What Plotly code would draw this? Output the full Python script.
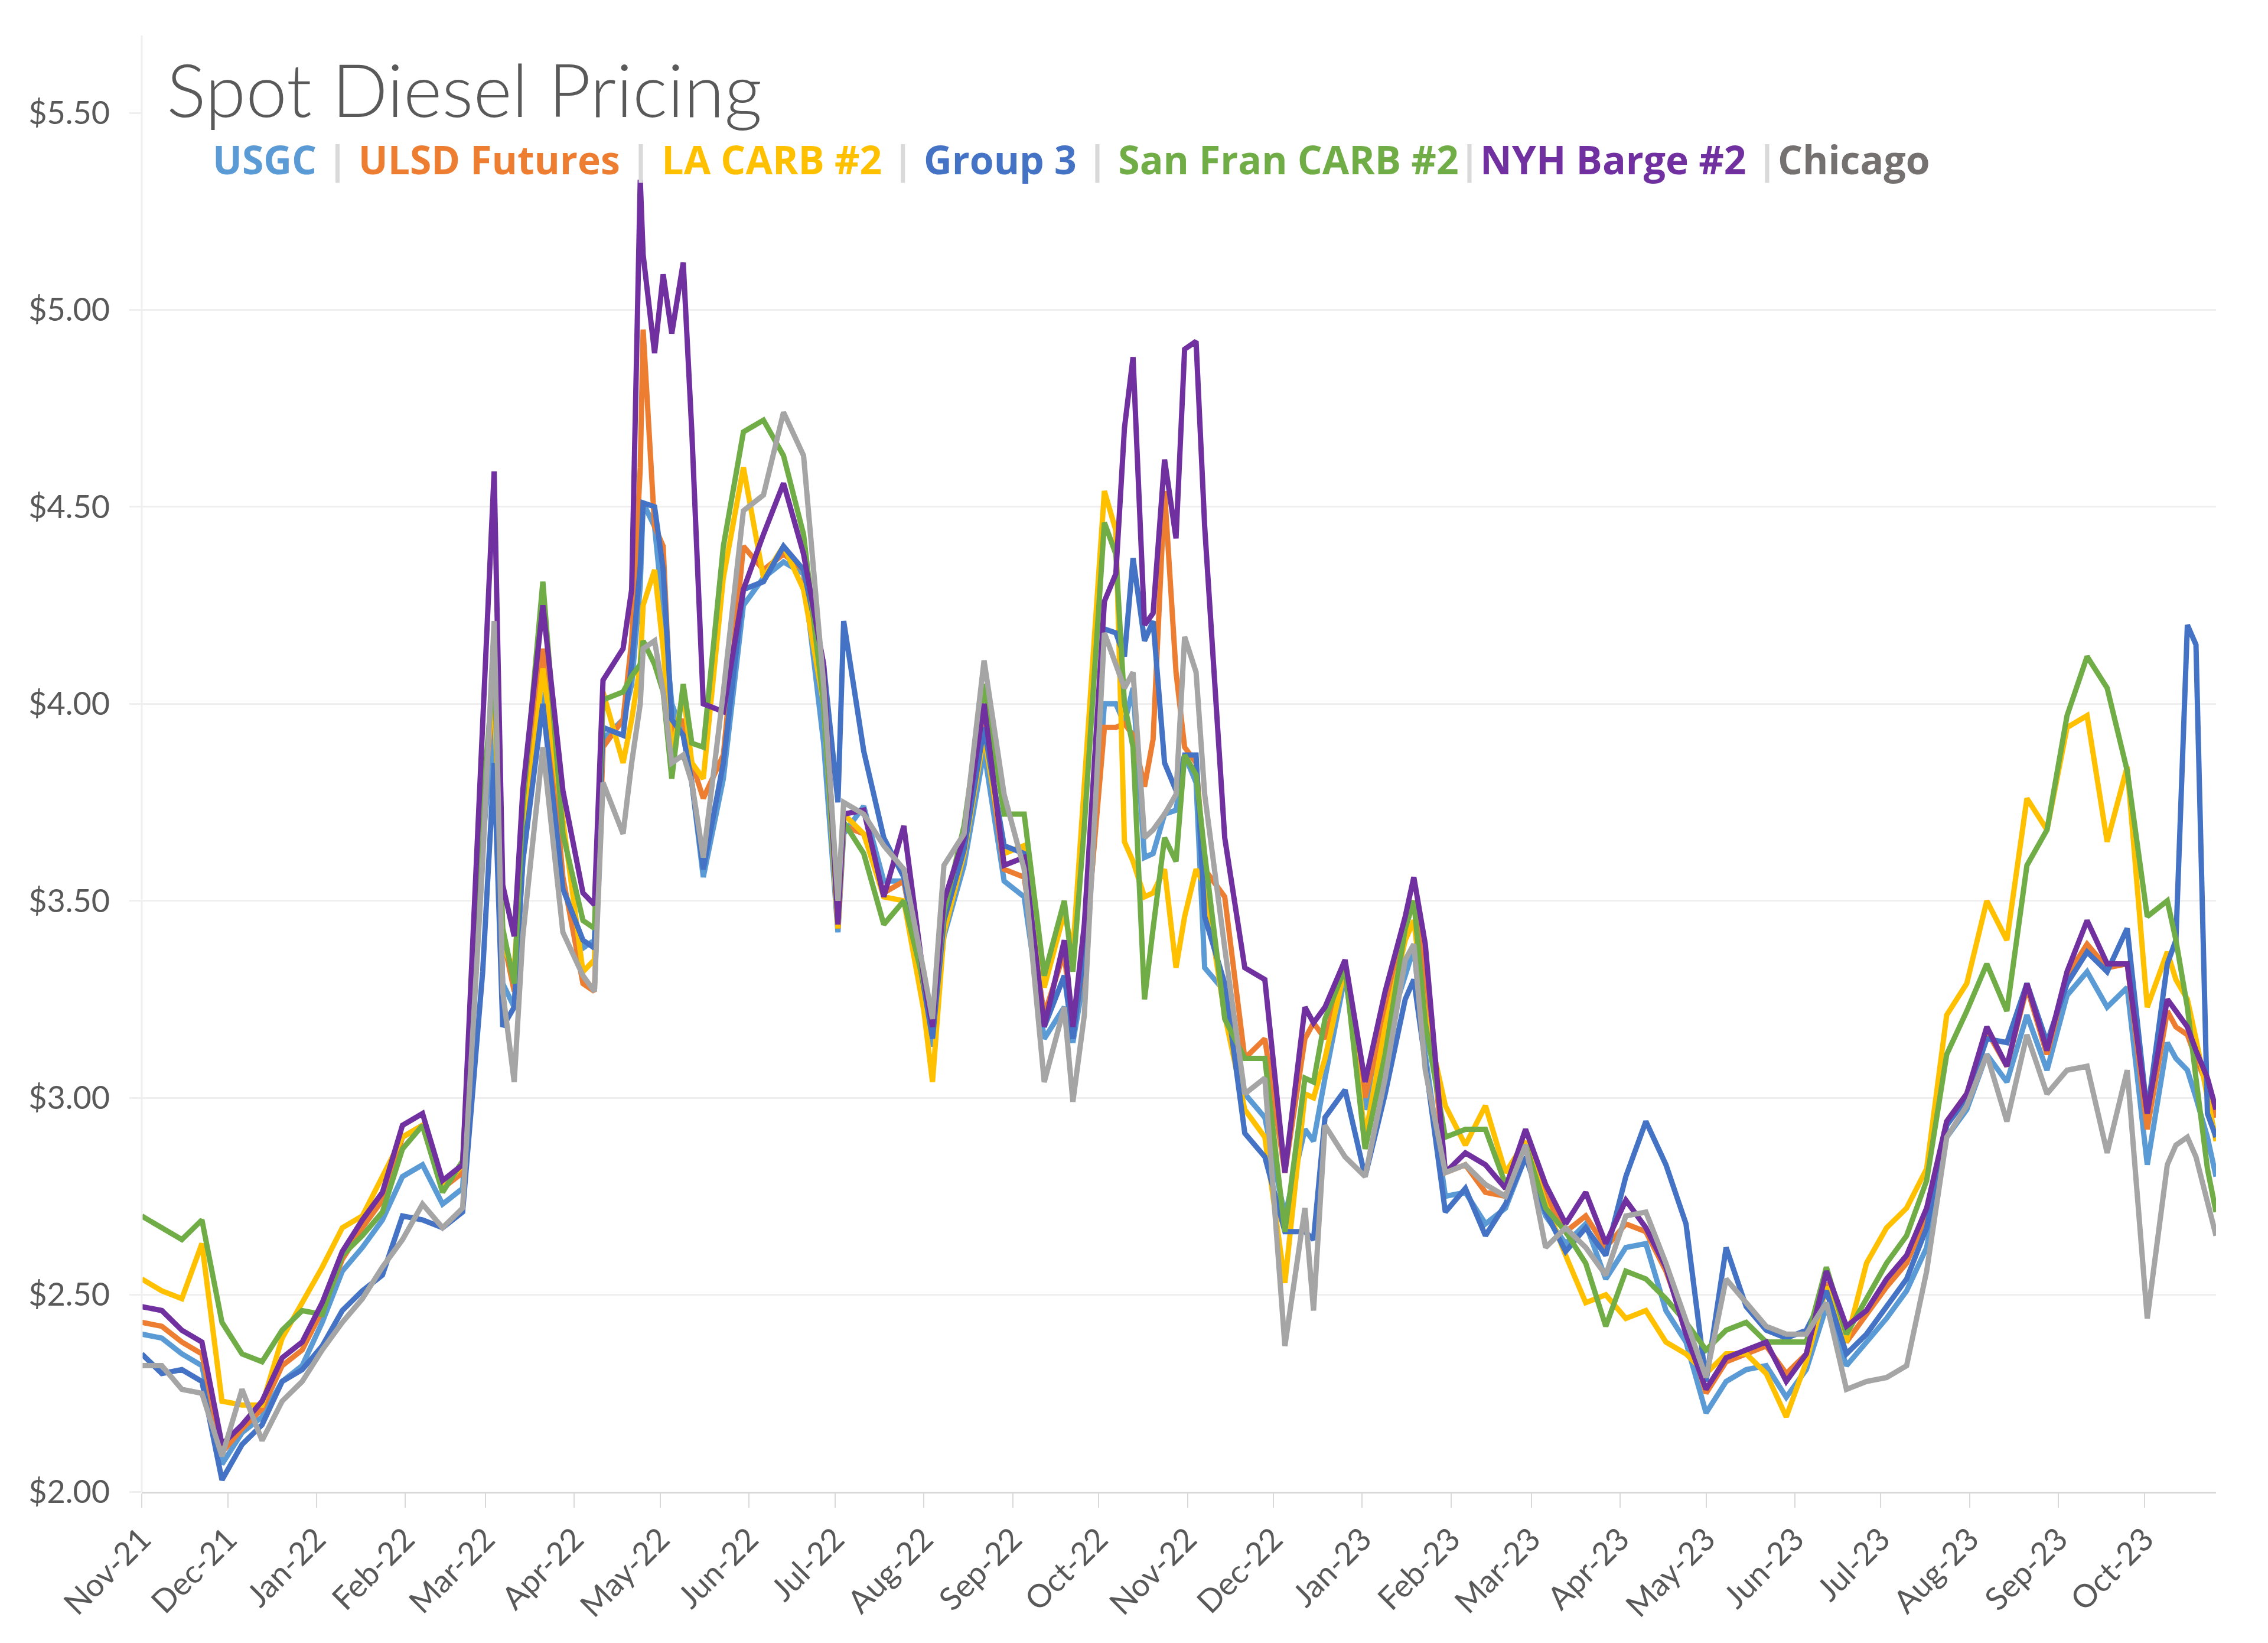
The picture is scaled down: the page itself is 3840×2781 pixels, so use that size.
import plotly.graph_objects as go

dates = [
    "2021-11-01", "2021-11-08", "2021-11-15", "2021-11-22", "2021-11-29", "2021-12-06", "2021-12-13",
    "2021-12-20", "2021-12-27", "2022-01-03", "2022-01-10", "2022-01-17", "2022-01-24", "2022-01-31",
    "2022-02-07", "2022-02-14", "2022-02-21", "2022-02-28", "2022-03-04", "2022-03-07", "2022-03-11",
    "2022-03-14", "2022-03-21", "2022-03-28", "2022-04-04", "2022-04-08", "2022-04-11", "2022-04-18",
    "2022-04-21", "2022-04-24", "2022-04-25", "2022-04-29", "2022-05-02", "2022-05-05", "2022-05-09",
    "2022-05-12", "2022-05-16", "2022-05-23", "2022-05-30", "2022-06-06", "2022-06-13", "2022-06-20",
    "2022-06-27", "2022-07-02", "2022-07-04", "2022-07-11", "2022-07-18", "2022-07-25", "2022-08-01",
    "2022-08-04", "2022-08-08", "2022-08-15", "2022-08-22", "2022-08-29", "2022-09-05", "2022-09-12",
    "2022-09-19", "2022-09-22", "2022-09-26", "2022-10-03", "2022-10-07", "2022-10-10", "2022-10-13",
    "2022-10-17", "2022-10-20", "2022-10-24", "2022-10-28", "2022-10-31", "2022-11-04", "2022-11-07",
    "2022-11-14", "2022-11-21", "2022-11-28", "2022-12-05", "2022-12-12", "2022-12-15", "2022-12-19",
    "2022-12-26", "2023-01-02", "2023-01-09", "2023-01-16", "2023-01-19", "2023-01-23", "2023-01-30",
    "2023-02-06", "2023-02-13", "2023-02-20", "2023-02-27", "2023-03-06", "2023-03-13", "2023-03-20",
    "2023-03-27", "2023-04-03", "2023-04-10", "2023-04-17", "2023-04-24", "2023-05-01", "2023-05-08",
    "2023-05-15", "2023-05-22", "2023-05-29", "2023-06-05", "2023-06-12", "2023-06-19", "2023-06-26",
    "2023-07-03", "2023-07-10", "2023-07-17", "2023-07-24", "2023-07-31", "2023-08-07", "2023-08-14",
    "2023-08-21", "2023-08-28", "2023-09-04", "2023-09-11", "2023-09-18", "2023-09-25", "2023-10-02",
    "2023-10-09", "2023-10-12", "2023-10-16", "2023-10-19", "2023-10-23", "2023-10-26",
]

usgc = [
    2.40, 2.39, 2.35, 2.32, 2.07, 2.15, 2.19, 2.28, 2.32, 2.43, 2.56, 2.62, 2.69, 2.80,
    2.83, 2.73, 2.77, 3.65, 3.95, 3.29, 3.23, 3.60, 4.03, 3.54, 3.38, 3.40, 3.91, 3.96,
    4.05, 4.30, 4.51, 4.45, 4.23, 4.00, 3.92, 3.80, 3.56, 3.81, 4.25, 4.32, 4.36, 4.33,
    3.90, 3.42, 3.67, 3.74, 3.55, 3.55, 3.27, 3.13, 3.41, 3.59, 3.88, 3.55, 3.51, 3.15,
    3.23, 3.14, 3.31, 4.00, 4.00, 3.95, 4.04, 3.61, 3.62, 3.72, 3.73, 3.87, 3.80, 3.33,
    3.27, 3.01, 2.95, 2.70, 2.92, 2.89, 3.05, 3.31, 2.97, 3.15, 3.31, 3.38, 3.11, 2.75,
    2.76, 2.68, 2.72, 2.85, 2.70, 2.63, 2.68, 2.54, 2.62, 2.63, 2.46, 2.38, 2.20, 2.28,
    2.31, 2.32, 2.24, 2.31, 2.47, 2.32, 2.38, 2.44, 2.51, 2.62, 2.90, 2.97, 3.11, 3.04,
    3.21, 3.07, 3.26, 3.32, 3.23, 3.28, 2.83, 3.14, 3.10, 3.07, 3.00, 2.90, 2.80,
]

ulsd = [
    2.43, 2.42, 2.38, 2.35, 2.10, 2.16, 2.21, 2.32, 2.36, 2.46, 2.59, 2.67, 2.74, 2.90,
    2.93, 2.77, 2.81, 3.72, 4.05, 3.41, 3.27, 3.67, 4.14, 3.56, 3.29, 3.27, 3.89, 3.96,
    4.16, 4.60, 4.95, 4.45, 4.40, 3.92, 3.96, 3.85, 3.76, 3.87, 4.40, 4.34, 4.38, 4.34,
    4.02, 3.43, 3.69, 3.67, 3.52, 3.55, 3.28, 3.17, 3.44, 3.62, 3.95, 3.58, 3.56, 3.21,
    3.37, 3.16, 3.35, 3.94, 3.94, 3.95, 3.92, 3.79, 3.91, 4.54, 4.08, 3.89, 3.85, 3.58,
    3.51, 3.10, 3.15, 2.81, 3.15, 3.19, 3.15, 3.33, 3.00, 3.22, 3.43, 3.50, 3.30, 2.81,
    2.83, 2.76, 2.75, 2.89, 2.75, 2.66, 2.70, 2.62, 2.68, 2.66, 2.56, 2.42, 2.25, 2.33,
    2.35, 2.37, 2.30, 2.35, 2.53, 2.38, 2.45, 2.52, 2.58, 2.70, 2.94, 3.01, 3.17, 3.08,
    3.28, 3.11, 3.31, 3.39, 3.33, 3.34, 2.92, 3.22, 3.18, 3.16, 3.10, 3.03, 2.95,
]

la_carb = [
    2.54, 2.51, 2.49, 2.63, 2.23, 2.22, 2.22, 2.39, 2.48, 2.57, 2.67, 2.70, 2.80, 2.90,
    2.93, 2.77, 2.83, 3.75, 4.05, 3.38, 3.33, 3.63, 4.09, 3.71, 3.32, 3.35, 4.03, 3.85,
    3.96, 4.10, 4.25, 4.34, 4.14, 3.87, 4.03, 3.85, 3.81, 4.32, 4.60, 4.32, 4.40, 4.29,
    4.00, 3.43, 3.72, 3.67, 3.51, 3.50, 3.22, 3.04, 3.42, 3.62, 3.92, 3.62, 3.64, 3.28,
    3.47, 3.37, 3.78, 4.54, 4.44, 3.65, 3.60, 3.51, 3.52, 3.58, 3.33, 3.46, 3.58, 3.54,
    3.21, 2.97, 2.90, 2.53, 3.01, 3.00, 3.10, 3.33, 2.90, 3.18, 3.40, 3.45, 3.21, 2.98,
    2.88, 2.98, 2.81, 2.89, 2.73, 2.60, 2.48, 2.50, 2.44, 2.46, 2.38, 2.35, 2.30, 2.35,
    2.35, 2.30, 2.19, 2.33, 2.52, 2.38, 2.58, 2.67, 2.72, 2.82, 3.21, 3.29, 3.50, 3.40,
    3.76, 3.68, 3.94, 3.97, 3.65, 3.84, 3.23, 3.37, 3.30, 3.25, 3.15, 3.01, 2.89,
]

group3 = [
    2.35, 2.30, 2.31, 2.28, 2.03, 2.12, 2.17, 2.28, 2.31, 2.37, 2.46, 2.51, 2.55, 2.70,
    2.69, 2.67, 2.71, 3.32, 3.85, 3.18, 3.23, 3.60, 4.00, 3.53, 3.40, 3.38, 3.94, 3.92,
    4.10, 4.35, 4.51, 4.50, 4.34, 3.96, 3.92, 3.80, 3.58, 3.85, 4.29, 4.31, 4.40, 4.34,
    4.10, 3.75, 4.21, 3.88, 3.66, 3.56, 3.28, 3.15, 3.45, 3.63, 3.94, 3.64, 3.62, 3.18,
    3.31, 3.15, 3.37, 4.19, 4.18, 4.12, 4.37, 4.16, 4.21, 3.85, 3.78, 3.87, 3.87, 3.46,
    3.29, 2.91, 2.85, 2.66, 2.66, 2.64, 2.95, 3.02, 2.80, 3.01, 3.25, 3.30, 3.09, 2.71,
    2.77, 2.65, 2.73, 2.85, 2.71, 2.61, 2.67, 2.60, 2.80, 2.94, 2.83, 2.68, 2.28, 2.62,
    2.47, 2.41, 2.39, 2.41, 2.51, 2.35, 2.40, 2.47, 2.54, 2.67, 2.93, 3.00, 3.15, 3.14,
    3.29, 3.14, 3.29, 3.37, 3.32, 3.43, 2.96, 3.34, 3.40, 4.20, 4.15, 2.96, 2.90,
]

san_fran = [
    2.70, 2.67, 2.64, 2.69, 2.43, 2.35, 2.33, 2.41, 2.46, 2.45, 2.60, 2.65, 2.71, 2.87,
    2.93, 2.76, 2.84, 3.75, 4.10, 3.43, 3.29, 3.74, 4.31, 3.67, 3.45, 3.43, 4.01, 4.03,
    4.07, 4.10, 4.16, 4.10, 4.03, 3.81, 4.05, 3.90, 3.89, 4.40, 4.69, 4.72, 4.63, 4.43,
    4.00, 3.45, 3.70, 3.62, 3.44, 3.50, 3.28, 3.20, 3.47, 3.69, 4.05, 3.72, 3.72, 3.31,
    3.50, 3.32, 3.69, 4.46, 4.38, 4.00, 3.89, 3.25, 3.43, 3.66, 3.60, 3.87, 3.82, 3.62,
    3.20, 3.10, 3.10, 2.66, 3.05, 3.04, 3.20, 3.33, 2.87, 3.11, 3.43, 3.50, 3.19, 2.90,
    2.92, 2.92, 2.78, 2.88, 2.72, 2.66, 2.58, 2.42, 2.56, 2.54, 2.49, 2.43, 2.36, 2.41,
    2.43, 2.38, 2.38, 2.38, 2.57, 2.40, 2.49, 2.58, 2.65, 2.79, 3.11, 3.22, 3.34, 3.22,
    3.59, 3.68, 3.97, 4.12, 4.04, 3.83, 3.46, 3.50, 3.40, 3.23, 3.05, 2.82, 2.71,
]

nyh_barge = [
    2.47, 2.46, 2.41, 2.38, 2.12, 2.17, 2.23, 2.34, 2.38, 2.48, 2.61, 2.69, 2.76, 2.93,
    2.96, 2.79, 2.83, 3.92, 4.59, 3.54, 3.41, 3.78, 4.25, 3.78, 3.52, 3.49, 4.06, 4.14,
    4.29, 5.33, 5.14, 4.89, 5.09, 4.94, 5.12, 4.69, 4.00, 3.98, 4.29, 4.43, 4.56, 4.38,
    4.10, 3.44, 3.72, 3.73, 3.51, 3.69, 3.30, 3.18, 3.50, 3.66, 4.00, 3.59, 3.61, 3.18,
    3.40, 3.18, 3.44, 4.26, 4.33, 4.70, 4.88, 4.20, 4.23, 4.62, 4.42, 4.90, 4.92, 4.45,
    3.66, 3.33, 3.30, 2.81, 3.23, 3.19, 3.23, 3.35, 3.04, 3.27, 3.46, 3.56, 3.39, 2.81,
    2.86, 2.83, 2.77, 2.92, 2.78, 2.68, 2.76, 2.63, 2.74, 2.67, 2.57, 2.40, 2.26, 2.34,
    2.36, 2.38, 2.28, 2.35, 2.56, 2.42, 2.46, 2.54, 2.60, 2.72, 2.94, 3.01, 3.18, 3.08,
    3.29, 3.12, 3.32, 3.45, 3.34, 3.34, 2.96, 3.25, 3.22, 3.18, 3.12, 3.05, 2.97,
]

chicago = [
    2.32, 2.32, 2.26, 2.25, 2.09, 2.26, 2.13, 2.23, 2.28, 2.36, 2.43, 2.49, 2.57, 2.64,
    2.73, 2.67, 2.72, 3.60, 4.21, 3.27, 3.04, 3.41, 3.89, 3.42, 3.31, 3.27, 3.80, 3.67,
    3.85, 4.00, 4.14, 4.16, 4.03, 3.85, 3.87, 3.80, 3.61, 4.03, 4.49, 4.53, 4.74, 4.63,
    4.05, 3.50, 3.75, 3.72, 3.64, 3.58, 3.32, 3.20, 3.59, 3.67, 4.11, 3.77, 3.58, 3.04,
    3.23, 2.99, 3.21, 4.18, 4.10, 4.04, 4.08, 3.66, 3.68, 3.72, 3.77, 4.17, 4.08, 3.77,
    3.38, 3.01, 3.05, 2.37, 2.72, 2.46, 2.93, 2.85, 2.80, 3.05, 3.35, 3.39, 3.07, 2.81,
    2.83, 2.78, 2.75, 2.88, 2.62, 2.67, 2.62, 2.55, 2.70, 2.71, 2.58, 2.43, 2.29, 2.54,
    2.48, 2.42, 2.40, 2.40, 2.48, 2.26, 2.28, 2.29, 2.32, 2.56, 2.90, 2.98, 3.11, 2.94,
    3.16, 3.01, 3.07, 3.08, 2.86, 3.07, 2.44, 2.83, 2.88, 2.90, 2.85, 2.74, 2.65,
]

series_names = ["USGC", "ULSD Futures", "LA CARB #2", "Group 3", "San Fran CARB #2", "NYH Barge #2", "Chicago"]
series_values = [usgc, ulsd, la_carb, group3, san_fran, nyh_barge, chicago]
series_colors = ["#5B9BD5", "#ED7D31", "#FFC000", "#4472C4", "#70AD47", "#7030A0", "#A5A5A5"]

tick_dates = [
    "2021-11-01", "2021-12-01", "2022-01-01", "2022-02-01", "2022-03-01", "2022-04-01", "2022-05-01",
    "2022-06-01", "2022-07-01", "2022-08-01", "2022-09-01", "2022-10-01", "2022-11-01", "2022-12-01",
    "2023-01-01", "2023-02-01", "2023-03-01", "2023-04-01", "2023-05-01", "2023-06-01", "2023-07-01",
    "2023-08-01", "2023-09-01", "2023-10-01",
]
tick_labels = [
    "Nov-21", "Dec-21", "Jan-22", "Feb-22", "Mar-22", "Apr-22", "May-22", "Jun-22", "Jul-22", "Aug-22",
    "Sep-22", "Oct-22", "Nov-22", "Dec-22", "Jan-23", "Feb-23", "Mar-23", "Apr-23", "May-23", "Jun-23",
    "Jul-23", "Aug-23", "Sep-23", "Oct-23",
]
y_ticks = [2.0, 2.5, 3.0, 3.5, 4.0, 4.5, 5.0, 5.5]

fig = go.Figure()
for name, vals, col in zip(series_names, series_values, series_colors):
    fig.add_trace(go.Scatter(x=dates, y=vals, mode="lines", name=name,
                             line=dict(color=col, width=9), showlegend=False))

W, H = 3840, 2781
OFF = 8  # page body margin
L, R, T, B = 240 - OFF, 88 + OFF, 191 - OFF, 256 + OFF
plot_h = H - T - B
plot_w = W - L - R

fig.update_layout(
    width=W, height=H,
    margin=dict(l=L, r=R, t=T, b=B, pad=0),
    paper_bgcolor="white", plot_bgcolor="white",
    font=dict(family="Lato, Open Sans, sans-serif", color="#595959", size=54),
    xaxis=dict(
        type="date", range=["2021-11-01", "2023-10-26"],
        tickvals=tick_dates, ticktext=tick_labels, tickangle=-45,
        showgrid=False, zeroline=False,
        showline=True, linecolor="#D9D9D9", linewidth=3,
        ticks="outside", ticklen=24, tickwidth=2, tickcolor="#D9D9D9",
        tickfont=dict(size=54, color="#595959"),
    ),
    yaxis=dict(
        range=[2.0, 5.5], tickvals=y_ticks, tickformat="$.2f",
        showgrid=True, gridcolor="#EFEFEF", gridwidth=3,
        zeroline=False, showline=False,
        ticks="outside", ticklen=20, tickwidth=3, tickcolor="#EFEFEF",
        tickfont=dict(size=54, color="#595959"),
        ticklabelstandoff=22,
    ),
)

# left axis line extending slightly above the top gridline
fig.add_shape(type="line", xref="paper", yref="paper", x0=0, x1=0, y0=0,
              y1=1 + (191 - 60) / plot_h, line=dict(color="#EFEFEF", width=3))

sep = '<span style="color:#D9D9D9">|</span>'
legend_html = (
    '<b>'
    f'<span style="color:#5B9BD5">USGC</span> {sep} '
    f'<span style="color:#ED7D31">ULSD Futures</span> {sep} '
    f'<span style="color:#FFC000">LA CARB #2</span> {sep} '
    f'<span style="color:#4472C4">Group 3</span> {sep} '
    f'<span style="color:#70AD47">San Fran CARB #2</span>{sep}'
    f'<span style="color:#7030A0">NYH Barge #2</span> {sep}'
    f'<span style="color:#767171">Chicago</span>'
    '</b>'
)
fig.add_annotation(xref="paper", yref="paper", x=(358 - 240) / plot_w, y=1 - (269 - 191) / plot_h,
                   xanchor="left", yanchor="middle", showarrow=False, text=legend_html,
                   font=dict(family="Open Sans, Lato, sans-serif", size=66))

fig.add_annotation(xref="paper", yref="paper", x=(280 - 240) / plot_w, y=1 + (191 - 150) / plot_h,
                   xanchor="left", yanchor="middle", showarrow=False, text="Spot Diesel Pricing",
                   font=dict(family="Lato, Open Sans, sans-serif", size=125, color="#595959", weight=300))

fig.write_html("out.html")
